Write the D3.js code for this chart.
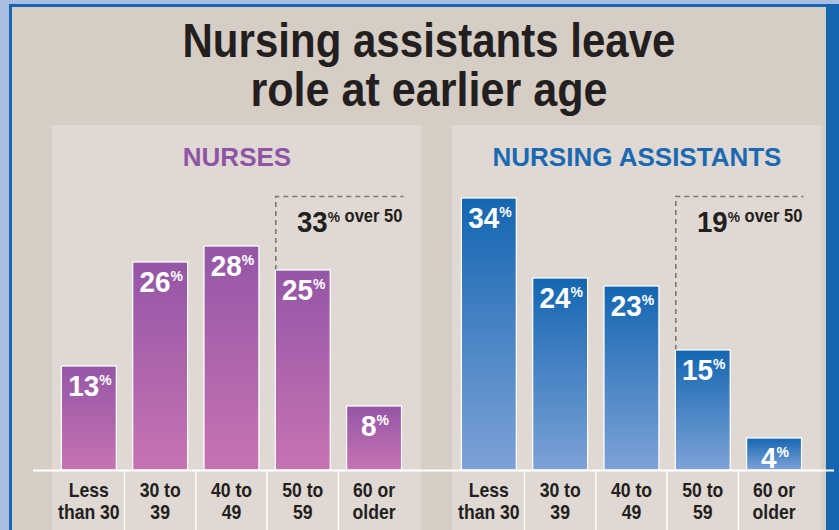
<!DOCTYPE html>
<html>
<head>
<meta charset="utf-8">
<script src="https://cdn.jsdelivr.net/npm/d3@7"></script>
<style>
  html, body { margin: 0; padding: 0; background: #a9bee0; }
  svg { display: block; }
  text { font-family: "Liberation Sans", Arial, sans-serif; font-weight: bold; }
</style>
</head>
<body>
<svg id="chart" width="839" height="530"></svg>
<script>
// ---- data ----
const titleLines = ["Nursing assistants leave", "role at earlier age"];
const categories = ["Less|than 30", "30 to|39", "40 to|49", "50 to|59", "60 or|older"];
const panelTitles = ["NURSES", "NURSING ASSISTANTS"];
const nursesValues = [13, 26, 28, 25, 8];
const assistantsValues = [34, 24, 23, 15, 4];
const over50Totals = [33, 19];
const over50Categories = ["50 to|59", "60 or|older"];
const over50Label = " over 50";

// ---- styles ----
const W = 839, H = 530;
const ink = "#231f20";
const panelStyles = [
  { title: "#8e55a6", top: "#9456a6", bottom: "#c773b3" },
  { title: "#1a69b2", top: "#1466b1", bottom: "#7ea2d8" }
];

const svg = d3.select("#chart");
const defs = svg.append("defs");

// frame
svg.append("rect").attr("x", 0).attr("y", 0).attr("width", W).attr("height", H).attr("fill", "#a9bee0");
svg.append("rect").attr("x", 9).attr("y", 4).attr("width", W - 9).attr("height", H).attr("fill", "#1565b0");
svg.append("rect").attr("x", 12).attr("y", 7).attr("width", W - 13 - 12).attr("height", H).attr("fill", "#d6cdc5");

// title
const titleG = svg.append("g");
const titleWidths = [493, 357];
const titleY = [57, 106];
titleLines.forEach((t, i) => {
  titleG.append("text")
    .attr("x", 429).attr("y", titleY[i])
    .attr("text-anchor", "middle")
    .attr("font-size", 49)
    .attr("fill", ink)
    .attr("textLength", titleWidths[i])
    .attr("lengthAdjust", "spacingAndGlyphs")
    .text(t);
});

// scales
const baseY = 470;
const y = d3.scaleLinear().domain([0, 40]).range([baseY, baseY - 320]);
const x = d3.scaleBand().domain(categories).range([53.2, 409.7]).paddingInner(0.23).paddingOuter(0.115);
const step = x.step();

const panelOffsets = [0, 400];
const allValues = [nursesValues, assistantsValues];

panelOffsets.forEach((off, pi) => {
  const g = svg.append("g").attr("transform", `translate(${off},0)`);
  const st = panelStyles[pi];
  // panel background
  g.append("rect").attr("x", 52).attr("y", 125).attr("width", 369).attr("height", H - 125).attr("fill", "#e0d8d2");

  // panel title
  g.append("text").attr("x", 237).attr("y", 166).attr("text-anchor", "middle")
    .attr("font-size", 26).attr("fill", st.title).text(panelTitles[pi]);

  // gradient
  const gid = "grad" + pi;
  const grad = defs.append("linearGradient").attr("id", gid).attr("x1", 0).attr("y1", 0).attr("x2", 0).attr("y2", 1);
  grad.append("stop").attr("offset", "0%").attr("stop-color", st.top);
  grad.append("stop").attr("offset", "100%").attr("stop-color", st.bottom);

  const vals = allValues[pi];
  const data = categories.map((c, i) => ({ c, v: vals[i] }));

  // dashed "over 50" box
  const bx0 = x(over50Categories[0]);
  const bx1 = x(over50Categories[1]) + x.bandwidth() + 2;
  const by = 196.5;
  const barTop = y(vals[categories.indexOf(over50Categories[0])]);
  g.append("path")
    .attr("d", `M${bx0 + 0.5},${barTop} V${by} H${bx1}`)
    .attr("fill", "none").attr("stroke", "#7a7674").attr("stroke-width", 1.6)
    .attr("stroke-dasharray", "5,4");

  const over = g.append("text")
    .attr("transform", `translate(${bx1 - 1},232) scale(0.92,1)`)
    .attr("text-anchor", "end").attr("fill", ink);
  over.append("tspan").attr("font-size", 30).text(over50Totals[pi]);
  over.append("tspan").attr("font-size", 15).attr("dy", -10).text("%");
  over.append("tspan").attr("font-size", 18).attr("dy", 0).text(over50Label);

  // bars
  g.selectAll("rect.bar").data(data).enter().append("rect").attr("class", "bar")
    .attr("x", d => x(d.c)).attr("y", d => y(d.v))
    .attr("width", x.bandwidth()).attr("height", d => baseY - y(d.v))
    .attr("fill", `url(#${gid})`).attr("stroke", "#ffffff").attr("stroke-width", 1.2);

  // bar labels
  data.forEach(d => {
    const t = g.append("text")
      .attr("transform", `translate(${x(d.c) + x.bandwidth() / 2 + 1},${y(d.v) + 30}) scale(0.93,1)`)
      .attr("text-anchor", "middle").attr("fill", "#ffffff");
    t.append("tspan").attr("font-size", 30).text(d.v);
    t.append("tspan").attr("font-size", 15).attr("dy", -11).text("%");
  });

  // separators below baseline
  categories.slice(1).forEach(c => {
    const sx = x(c) - (step - x.bandwidth()) / 2;
    g.append("line").attr("x1", sx).attr("x2", sx).attr("y1", baseY).attr("y2", H)
      .attr("stroke", "#ffffff").attr("stroke-width", 1.5);
  });

  // category labels
  categories.forEach(c => {
    const lines = c.split("|");
    lines.forEach((ln, li) => {
      g.append("text")
        .attr("transform", `translate(${x(c) + x.bandwidth() / 2},${497 + li * 22}) scale(0.88,1)`)
        .attr("text-anchor", "middle").attr("font-size", 20).attr("fill", ink).text(ln);
    });
  });
});

// baseline
svg.append("line").attr("x1", 33).attr("x2", 834).attr("y1", baseY + 0.5).attr("y2", baseY + 0.5)
  .attr("stroke", "#ffffff").attr("stroke-width", 2);
</script>
</body>
</html>
